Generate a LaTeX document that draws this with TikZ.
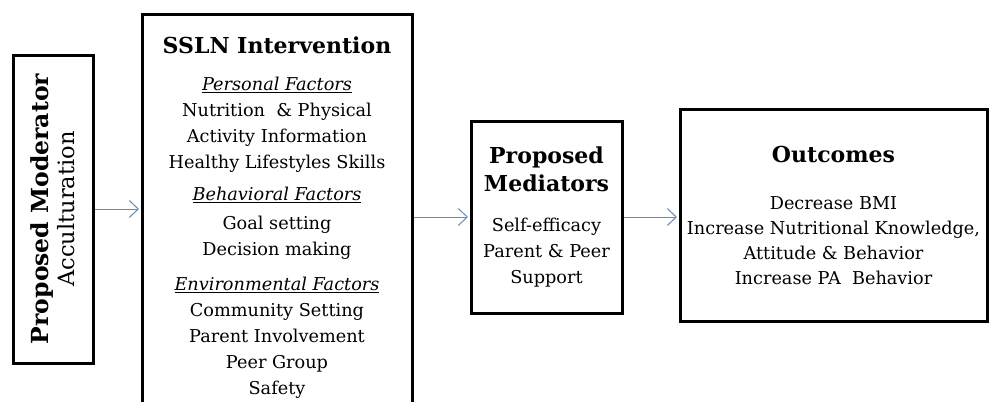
\documentclass[tikz,border=0pt]{standalone}
\usepackage{fontspec}
\setmainfont{DejaVu Serif}
\usetikzlibrary{arrows.meta}

\definecolor{arrowblue}{RGB}{100,140,182}
\newcommand\bodysize{\fontsize{17.7}{26}\selectfont}
\newcommand\headsize{\fontsize{22}{26}\selectfont\bfseries}
\newcommand\factor[1]{\underline{\textit{#1}}}

\begin{document}
\begin{tikzpicture}[x=1pt,y=-1pt]

        \useasboundingbox (0,0) rectangle (989,402);
        \clip (0,0) rectangle (989,402);

        \begin{scope}[every node/.style={draw,line width=3pt,align=center,inner sep=0pt,font=\bodysize}]
          \node[rotate=90,minimum width=308,minimum height=80,font=\fontsize{22}{26}\selectfont] (1) at (53,209)
            {{\fontsize{23.5}{26}\selectfont\bfseries Proposed Moderator}\\{\fontsize{22.5}{26}\selectfont Acculturation}};
          \node[minimum width=270,minimum height=407] (2) at (277,217.5)
            {{\headsize SSLN Intervention}\\[11pt]
             \factor{Personal Factors}\\
             Nutrition \ \& Physical\\
             Activity Information\\
             Healthy Lifestyles Skills\\[6pt]
             \factor{Behavioral Factors}\\[3pt]
             Goal setting\\
             Decision making\\[9pt]
             \factor{Environmental Factors}\\
             Community Setting\\
             Parent Involvement\\
             Peer Group\\
             Safety};
          \node[minimum width=151,minimum height=192] (3) at (546.5,217)
            {{\headsize Proposed}\\[2pt]{\headsize Mediators}\\[14pt]
             Self-efficacy\\
             Parent \& Peer\\
             Support};
          \node[minimum width=307,minimum height=212] (4) at (833.5,215)
            {{\headsize Outcomes}\\[21pt]
             Decrease BMI\\[-1pt]
             Increase Nutritional Knowledge,\\[-1pt]
             Attitude \& Behavior\\[-1pt]
             Increase PA \ Behavior};
        \end{scope}

        \begin{scope}[every edge/.style={draw=arrowblue,line width=1pt,
            -{Straight Barb[length=9pt,width=17pt]},shorten >=1.5pt}]
          \path (1.south) edge (1.south -| 2.west);
          \path (2.east |- 3.west) edge (3.west);
          \path (3.east) edge (3.east -| 4.west);
        \end{scope}

      \end{tikzpicture}
\end{document}
